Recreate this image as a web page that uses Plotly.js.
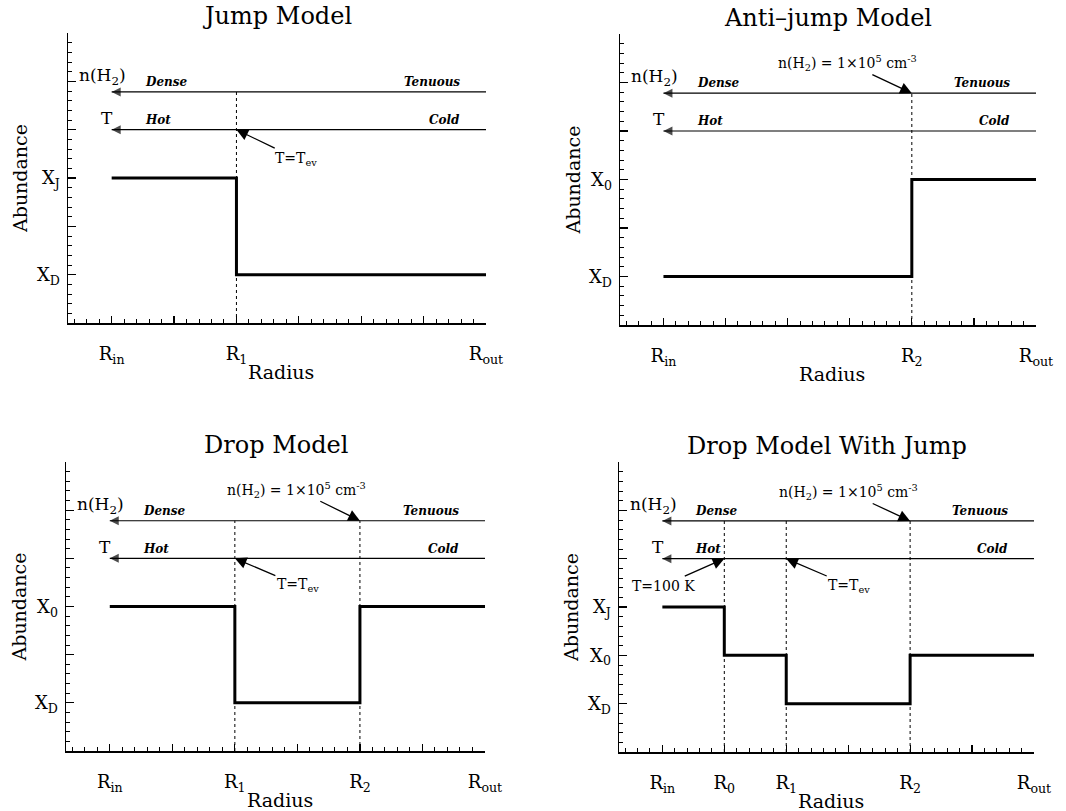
<!DOCTYPE html>
<html>
<head>
<meta charset="utf-8">
<script src="https://cdn.plot.ly/plotly-3.0.1.min.js"></script>
<style>
html, body { margin: 0; padding: 0; background: #ffffff; }
#chart { width: 1066px; height: 811px; }
</style>
</head>
<body>
<div id="chart"></div>
<script>
// ---------------- data ----------------
const panelTitles = ["Jump Model", "Anti\u2013jump Model", "Drop Model", "Drop Model With Jump"];

const radiusTickVals = [0, 1, 2, 3, 4, 5, 6];
const jumpRadiusLabels     = ["R<sub>in</sub>", "", "R<sub>1</sub>", "", "", "", "R<sub>out</sub>"];
const antiJumpRadiusLabels = ["R<sub>in</sub>", "", "", "", "R<sub>2</sub>", "", "R<sub>out</sub>"];
const dropRadiusLabels     = ["R<sub>in</sub>", "", "R<sub>1</sub>", "", "R<sub>2</sub>", "", "R<sub>out</sub>"];
const dropJumpRadiusLabels = ["R<sub>in</sub>", "R<sub>0</sub>", "R<sub>1</sub>", "", "R<sub>2</sub>", "", "R<sub>out</sub>"];

const abundanceTickVals = [0, 1, 2, 3, 4, 5, 6];
const jumpAbundanceLabels     = ["", "X<sub>D</sub>", "", "X<sub>J</sub>", "", "", ""];
const antiJumpAbundanceLabels = ["", "X<sub>D</sub>", "", "X<sub>0</sub>", "", "", ""];
const dropAbundanceLabels     = ["", "X<sub>D</sub>", "", "X<sub>0</sub>", "", "", ""];
const dropJumpAbundanceLabels = ["", "X<sub>D</sub>", "X<sub>0</sub>", "X<sub>J</sub>", "", "", ""];

// abundance step profiles (radius, abundance)
const jumpRadius = [0, 2, 6];
const jumpAbundance = [3, 1, 1];
const antiJumpRadius = [0, 4, 6];
const antiJumpAbundance = [1, 3, 3];
const dropRadius = [0, 2, 4, 6];
const dropAbundance = [3, 1, 3, 3];
const dropJumpRadius = [0, 1, 2, 4, 6];
const dropJumpAbundance = [3, 2, 1, 2, 2];

// boundaries marked with dotted lines
const jumpBoundaries = [2];
const antiJumpBoundaries = [4];
const dropBoundaries = [2, 4];
const dropJumpBoundaries = [1, 2, 4];

// gradient arrows
const innerRadius = 0;
const outerRadius = 6;
const densityLevel = 4.78;
const temperatureLevel = 4.0;
const densityWords = ["Dense", "Tenuous"];
const temperatureWords = ["Hot", "Cold"];

// key radii for callouts
const evaporationRadius = 2;          // T = T_ev
const criticalDensityRadius = 4;      // n(H2) = 1e5 cm^-3
const hundredKelvinRadius = 1;        // T = 100 K

// ---------------- layout helpers ----------------
const W = 1066, H = 811;
const px = v => v / W;
const py = v => 1 - v / H;

const panels = [
  {box: [68, 486, 33, 323],  titleY: 16,
   radius: jumpRadius, abundance: jumpAbundance, bounds: jumpBoundaries,
   xlabels: jumpRadiusLabels, ylabels: jumpAbundanceLabels,
   callouts: [{text: "T=T<sub>ev</sub>", x: evaporationRadius, y: temperatureLevel, ax: 60, ay: 29}]},
  {box: [620, 1036, 34, 325], titleY: 18,
   radius: antiJumpRadius, abundance: antiJumpAbundance, bounds: antiJumpBoundaries,
   xlabels: antiJumpRadiusLabels, ylabels: antiJumpAbundanceLabels,
   callouts: [{text: "n(H<sub>2</sub>) = 1\u00d710<sup>5</sup> cm<sup>-3</sup>", x: criticalDensityRadius, y: densityLevel, ax: -64, ay: -30}]},
  {box: [66, 485, 462, 751], titleY: 445,
   radius: dropRadius, abundance: dropAbundance, bounds: dropBoundaries,
   xlabels: dropRadiusLabels, ylabels: dropAbundanceLabels,
   callouts: [{text: "n(H<sub>2</sub>) = 1\u00d710<sup>5</sup> cm<sup>-3</sup>", x: criticalDensityRadius, y: densityLevel, ax: -63, ay: -31},
              {text: "T=T<sub>ev</sub>", x: evaporationRadius, y: temperatureLevel, ax: 63, ay: 27}]},
  {box: [619, 1034, 462, 752], titleY: 446,
   radius: dropJumpRadius, abundance: dropJumpAbundance, bounds: dropJumpBoundaries,
   xlabels: dropJumpRadiusLabels, ylabels: dropJumpAbundanceLabels,
   callouts: [{text: "n(H<sub>2</sub>) = 1\u00d710<sup>5</sup> cm<sup>-3</sup>", x: criticalDensityRadius, y: densityLevel, ax: -62, ay: -29},
              {text: "T=T<sub>ev</sub>", x: evaporationRadius, y: temperatureLevel, ax: 63, ay: 27},
              {text: "T=100 K", x: hundredKelvinRadius, y: temperatureLevel, ax: -61, ay: 27}]}
];

const FONT = "DejaVu Serif, Liberation Serif, serif";
const traces = [];
const annotations = [];
const layout = {
  width: W, height: H,
  margin: {l: 0, r: 0, t: 0, b: 0},
  paper_bgcolor: "#ffffff", plot_bgcolor: "#ffffff",
  showlegend: false,
  font: {family: FONT, color: "#000000"}
};

panels.forEach((p, i) => {
  const n = i + 1;
  const xa = "x" + (n === 1 ? "" : n), ya = "y" + (n === 1 ? "" : n);
  const [x0, x1, y0, y1] = p.box;

  layout["xaxis" + (n === 1 ? "" : n)] = {
    domain: [px(x0), px(x1)], anchor: ya, range: [-0.7, 6],
    showline: true, linewidth: 1.5, linecolor: "#000", mirror: false,
    showgrid: false, zeroline: false,
    ticks: "inside", ticklen: 7, tickwidth: 1.2, tickcolor: "#000",
    tickmode: "array", tickvals: radiusTickVals, ticktext: p.xlabels,
    minor: {ticks: "inside", ticklen: 4, tickwidth: 1, tickcolor: "#000", tickmode: "linear", tick0: 0, dtick: 0.2, showgrid: false},
    tickfont: {family: FONT, size: 18, color: "#000"},
    ticklabelstandoff: 14, automargin: false, fixedrange: true
  };
  layout["yaxis" + (n === 1 ? "" : n)] = {
    domain: [py(y1), py(y0)], anchor: xa, range: [0, 6],
    showline: true, linewidth: 1.5, linecolor: "#000", mirror: false,
    showgrid: false, zeroline: false,
    ticks: "inside", ticklen: 8, tickwidth: 1.2, tickcolor: "#000",
    tickmode: "array", tickvals: abundanceTickVals, ticktext: p.ylabels,
    minor: {ticks: "inside", ticklen: 4, tickwidth: 1, tickcolor: "#000", tickmode: "linear", tick0: 0, dtick: 0.2, showgrid: false},
    tickfont: {family: FONT, size: 18, color: "#000"},
    ticklabelstandoff: 3, automargin: false, fixedrange: true
  };

  // dotted boundary lines
  p.bounds.forEach(b => {
    traces.push({type: "scatter", mode: "lines", xaxis: xa, yaxis: ya,
      x: [b, b], y: [0, densityLevel],
      line: {color: "#000", width: 1, dash: "dot"}, hoverinfo: "skip"});
  });

  // gradient arrows (density + temperature)
  [densityLevel, temperatureLevel].forEach(lv => {
    traces.push({type: "scatter", mode: "lines+markers", xaxis: xa, yaxis: ya,
      x: [outerRadius, innerRadius], y: [lv, lv],
      line: {color: "#000", width: 1.2},
      marker: {symbol: ["circle", "arrow-left"], size: [0, 9], color: "#000", line: {width: 0}},
      hoverinfo: "skip"});
  });

  // abundance profile
  traces.push({type: "scatter", mode: "lines", xaxis: xa, yaxis: ya,
    x: p.radius, y: p.abundance, line: {color: "#000", width: 3, shape: "hv"}, hoverinfo: "skip"});

  // panel title
  annotations.push({xref: "paper", yref: "paper", x: px((x0 + x1) / 2), y: py(p.titleY),
    text: panelTitles[i], showarrow: false, xanchor: "center", yanchor: "middle",
    font: {family: FONT, size: 24, color: "#000"}});
  // axis titles
  annotations.push({xref: "paper", yref: "paper", x: px((x0 + x1) / 2 + 4), y: py(y1 + 49),
    text: "Radius", showarrow: false, xanchor: "center", yanchor: "middle",
    font: {family: FONT, size: 19, color: "#000"}});
  annotations.push({xref: "paper", yref: "paper", x: px(x0 - 48), y: py((y0 + y1) / 2 + 1),
    text: "Abundance", textangle: -90, showarrow: false, xanchor: "center", yanchor: "middle",
    font: {family: FONT, size: 19, color: "#000"}});

  // row labels
  annotations.push({xref: xa, yref: ya, x: -0.55, y: 5.1, text: "n(H<sub>2</sub>)", showarrow: false,
    xanchor: "left", yanchor: "middle", font: {family: FONT, size: 17, color: "#000"}});
  annotations.push({xref: xa, yref: ya, x: -0.07, y: 4.24, text: "T", showarrow: false,
    xanchor: "center", yanchor: "middle", font: {family: FONT, size: 17, color: "#000"}});

  // words along arrows
  const wordFont = {family: FONT, size: 12, color: "#000", weight: "bold", style: "italic"};
  annotations.push({xref: xa, yref: ya, x: 0.5, y: densityLevel + 0.2, text: "<b><i>" + densityWords[0] + "</i></b>", showarrow: false, xanchor: "left", yanchor: "middle", font: wordFont});
  annotations.push({xref: xa, yref: ya, x: 5.62, y: densityLevel + 0.2, text: "<b><i>" + densityWords[1] + "</i></b>", showarrow: false, xanchor: "right", yanchor: "middle", font: wordFont});
  annotations.push({xref: xa, yref: ya, x: 0.5, y: temperatureLevel + 0.2, text: "<b><i>" + temperatureWords[0] + "</i></b>", showarrow: false, xanchor: "left", yanchor: "middle", font: wordFont});
  annotations.push({xref: xa, yref: ya, x: 5.62, y: temperatureLevel + 0.2, text: "<b><i>" + temperatureWords[1] + "</i></b>", showarrow: false, xanchor: "right", yanchor: "middle", font: wordFont});

  // callouts with arrows
  p.callouts.forEach(c => {
    annotations.push({xref: xa, yref: ya, x: c.x, y: c.y, ax: c.ax, ay: c.ay,
      text: c.text, showarrow: true, arrowhead: 2, arrowsize: 1.8, arrowwidth: 1.3, arrowcolor: "#000",
      standoff: 0, startstandoff: 0,
      font: {family: FONT, size: 14, color: "#000"}});
  });
});

layout.annotations = annotations;

Plotly.newPlot("chart", traces, layout, {displayModeBar: false, staticPlot: true});
</script>
</body>
</html>
